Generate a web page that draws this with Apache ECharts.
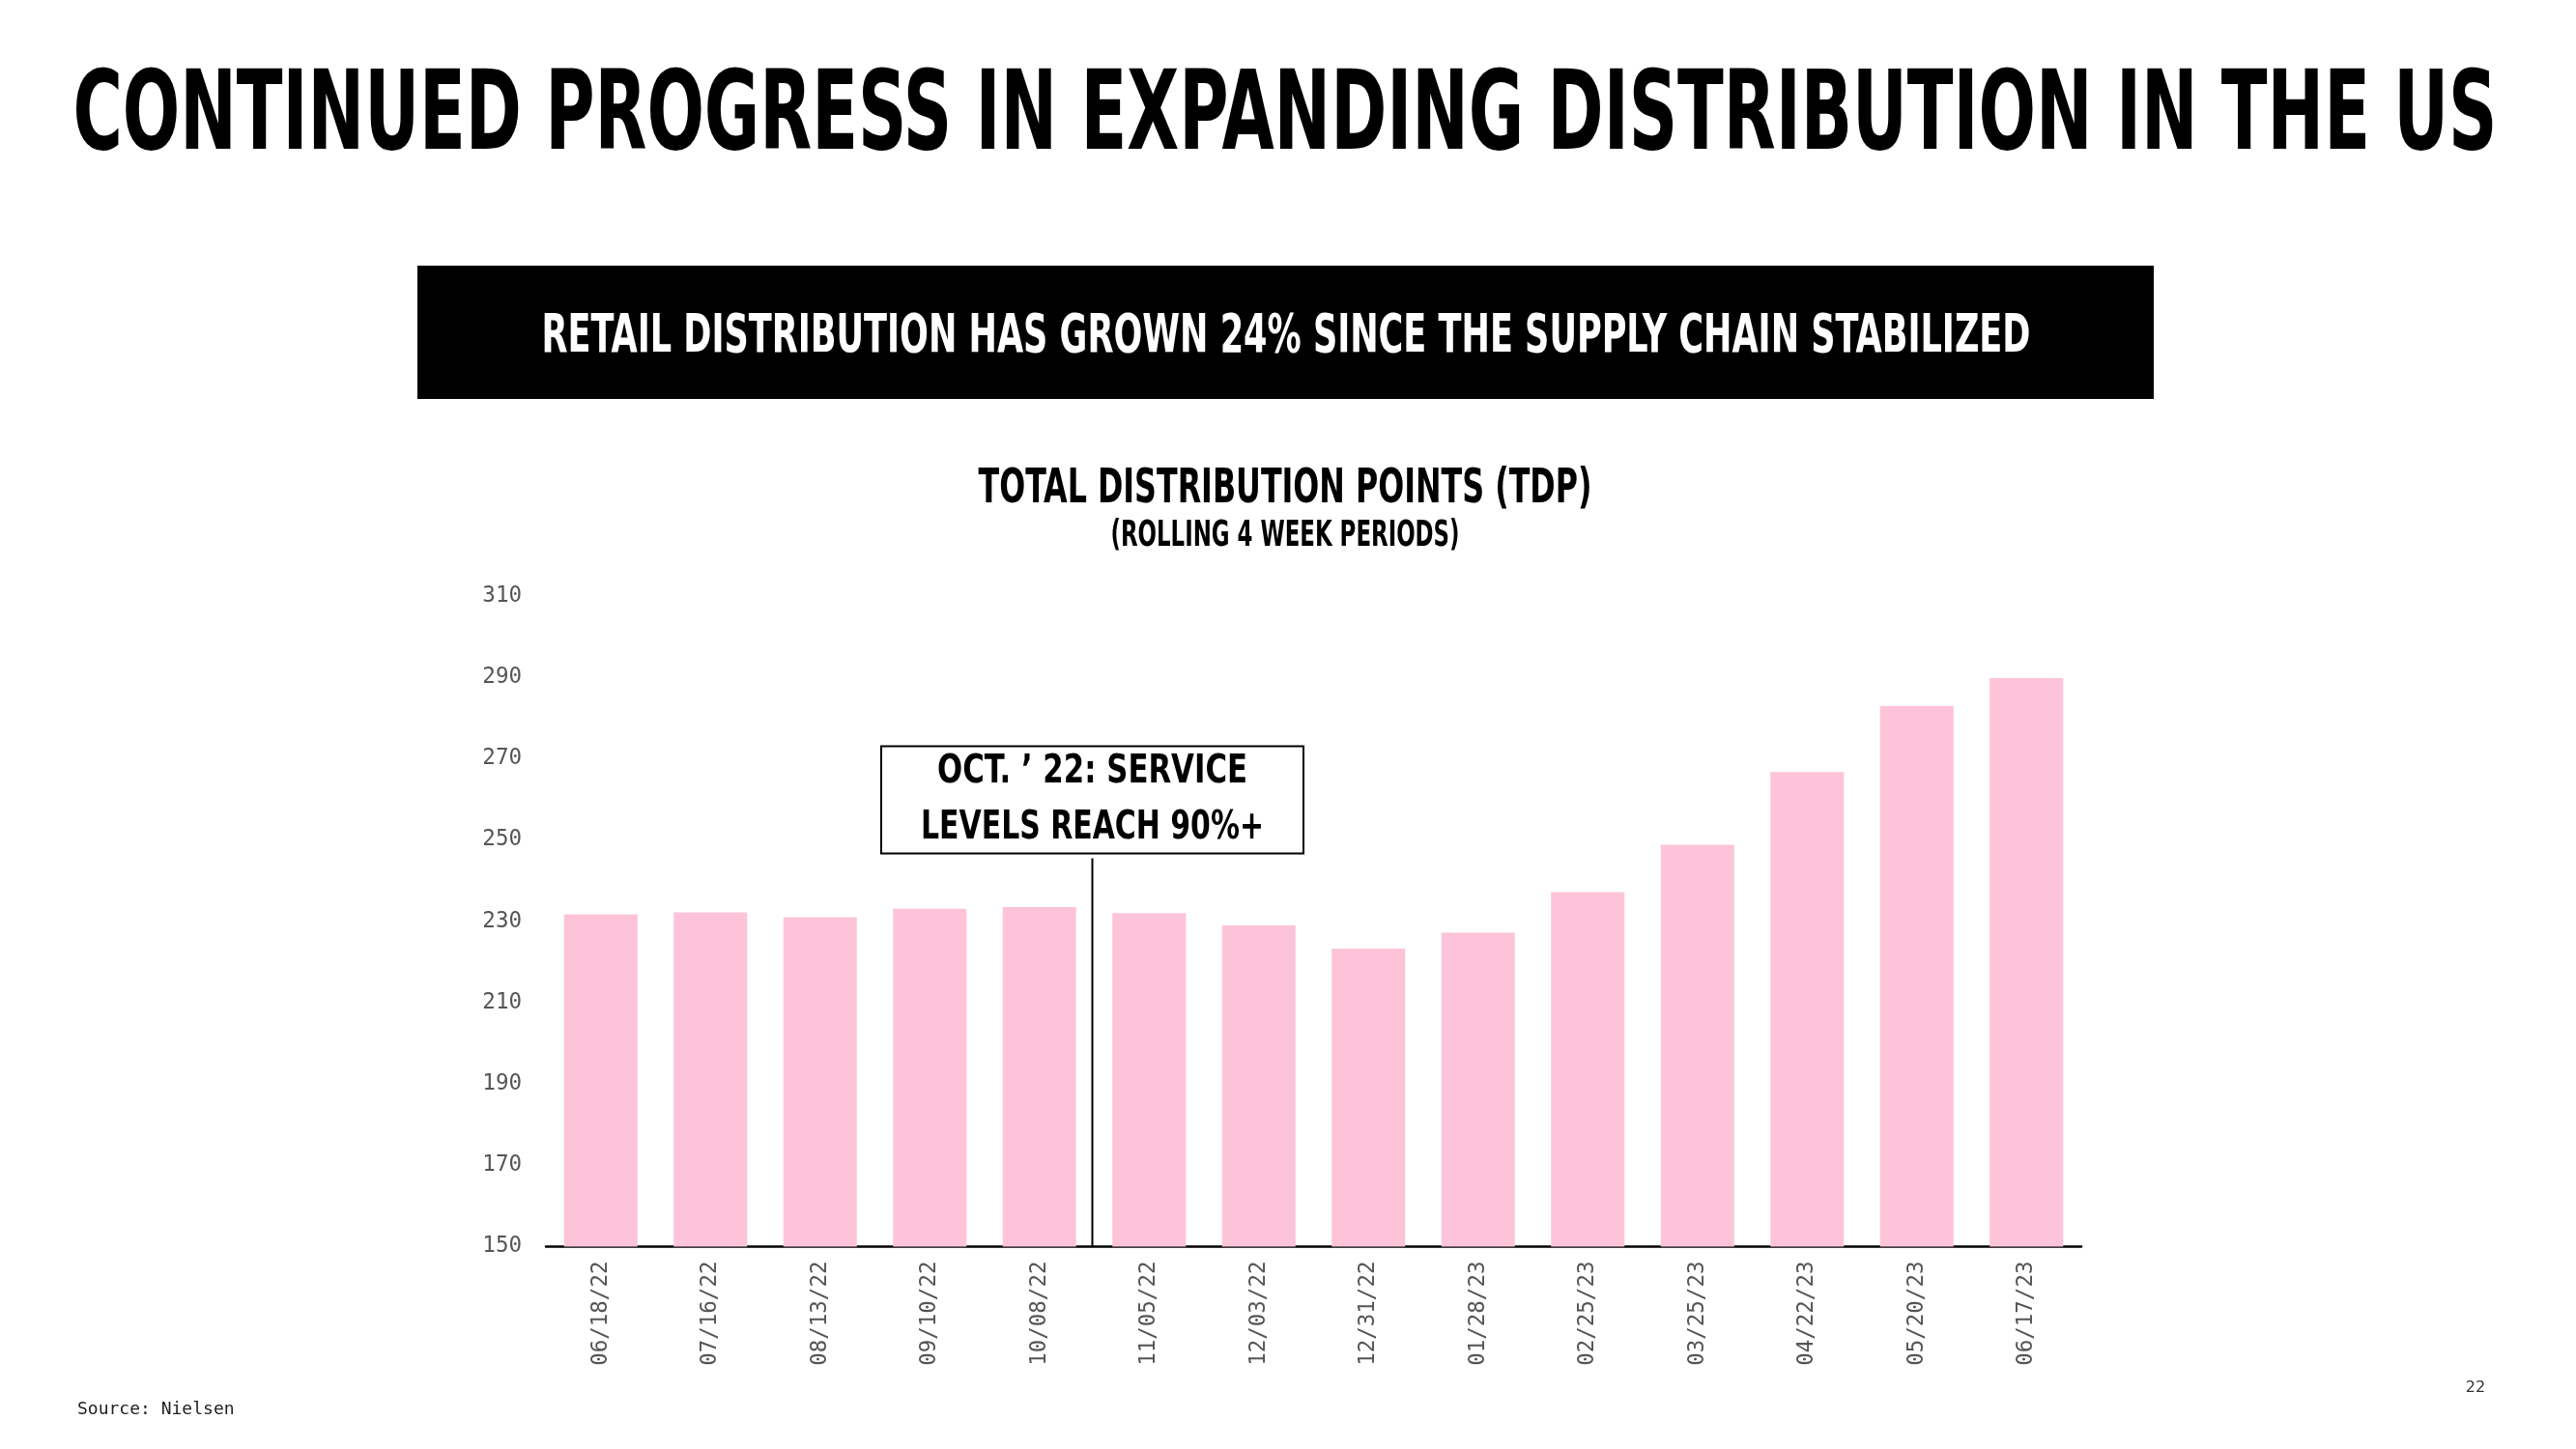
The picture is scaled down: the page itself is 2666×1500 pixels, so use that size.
<!DOCTYPE html>
<html><head><meta charset="utf-8">
<script src="https://cdn.jsdelivr.net/npm/echarts@6/dist/echarts.min.js"></script>
<style>html,body{margin:0;padding:0;background:#fff}#c{width:2666px;height:1500px}</style>
</head><body><div id="c"></div>
<script>
// ---- data ----
const categories = ['06/18/22','07/16/22','08/13/22','09/10/22','10/08/22','11/05/22','12/03/22','12/31/22','01/28/23','02/25/23','03/25/23','04/22/23','05/20/23','06/17/23'];
const tdpValues = [231.7, 232.2, 231.0, 233.1, 233.5, 232.0, 229.0, 223.3, 227.2, 237.2, 248.8, 266.7, 283.0, 289.8];
const yMin = 150, yMax = 310, yStep = 20;
const titleText = 'CONTINUED PROGRESS IN EXPANDING DISTRIBUTION IN THE US';
const bannerText = 'RETAIL DISTRIBUTION HAS GROWN 24% SINCE THE SUPPLY CHAIN STABILIZED';
const chartTitle = 'TOTAL DISTRIBUTION POINTS (TDP)';
const chartSubtitle = '(ROLLING 4 WEEK PERIODS)';
const annotationLines = ['OCT. \u2019 22: SERVICE', 'LEVELS REACH 90%+'];
const annotationAfterIndex = 4; // line sits between this category and the next
const sourceText = 'Source: Nielsen';
const pageNumber = '22';

// ---- styles ----
const DISPLAY = '"DejaVu Sans Condensed", "DejaVu Sans", sans-serif';
const MONO = '"DejaVu Sans Mono", "Liberation Mono", monospace';
const PINK = '#FDC4D9';

const mctx = document.createElement('canvas').getContext('2d');
function fit(text, size, target) {
  mctx.font = 'bold ' + size + 'px ' + DISPLAY;
  return target / mctx.measureText(text).width;
}
function fancyText(text, cx, cy, size, targetW, color) {
  return {
    type: 'text', x: cx, y: cy, scaleX: fit(text, size, targetW), z: 10,
    style: {
      text: text, fontSize: size, fontWeight: 'bold', fontFamily: DISPLAY,
      fill: color, align: 'center', verticalAlign: 'middle',
      textAlign: 'center', textVerticalAlign: 'middle'
    }
  };
}

const chart = echarts.init(document.getElementById('c'), null, {renderer: 'canvas'});

const baseGraphics = [
  fancyText(titleText, 1330, 124, 114, 2509, '#000'),
  {type: 'rect', shape: {x: 432, y: 275, width: 1797, height: 138}, style: {fill: '#000'}, z: 5},
  fancyText(bannerText, 1331, 349, 56, 1541, '#fff'),
  fancyText(chartTitle, 1330, 507, 50, 635, '#000'),
  fancyText(chartSubtitle, 1330, 555, 37, 361, '#000'),
  {type: 'text', x: 80, y: 1459, z: 10, style: {text: sourceText, fontSize: 18, fontFamily: MONO, fill: '#222', align: 'left', verticalAlign: 'middle', textAlign: 'left', textVerticalAlign: 'middle'}},
  {type: 'text', x: 2562, y: 1437, z: 10, style: {text: pageNumber, fontSize: 16, fontFamily: '"DejaVu Sans", sans-serif', fill: '#333', align: 'center', verticalAlign: 'middle', textAlign: 'center', textVerticalAlign: 'middle'}}
];

chart.setOption({
  animation: false,
  backgroundColor: '#fff',
  grid: {left: 565, right: 512, top: 617, bottom: 209.5, containLabel: false},
  xAxis: {
    type: 'category', data: categories,
    axisLine: {show: true, lineStyle: {color: '#000', width: 2.5}},
    axisTick: {show: false},
    axisLabel: {rotate: 90, margin: 15, fontSize: 22.5, fontFamily: MONO, color: '#555'}
  },
  yAxis: {
    type: 'value', min: yMin, max: yMax, interval: yStep,
    axisLine: {show: false}, axisTick: {show: false}, splitLine: {show: false},
    axisLabel: {margin: 25, fontSize: 22.5, fontFamily: MONO, color: '#555'}
  },
  series: [{
    type: 'bar', data: tdpValues, barWidth: '67%',
    itemStyle: {color: PINK}
  }],
  graphic: baseGraphics
});

// annotation anchored through the axes' scales
const xa = chart.convertToPixel({xAxisIndex: 0}, categories[annotationAfterIndex]);
const xb = chart.convertToPixel({xAxisIndex: 0}, categories[annotationAfterIndex + 1]);
const lx = Math.round((xa + xb) / 2) - 2.5;
const yAxisBase = chart.convertToPixel({yAxisIndex: 0}, yMin);
const lineTop = chart.convertToPixel({yAxisIndex: 0}, 245.5);
const boxW = 437, boxH = 111;
const boxBottom = lineTop - 5;
const boxTop = boxBottom - boxH;

chart.setOption({
  graphic: baseGraphics.concat([
    {type: 'line', shape: {x1: lx, y1: lineTop, x2: lx, y2: yAxisBase}, style: {stroke: '#000', lineWidth: 2}, z: 10},
    {type: 'rect', shape: {x: lx - boxW / 2, y: boxTop, width: boxW, height: boxH}, style: {fill: '#fff', stroke: '#000', lineWidth: 2}, z: 10},
    fancyText(annotationLines[0], lx, boxTop + 27, 41, 321, '#000'),
    fancyText(annotationLines[1], lx, boxTop + 85, 41, 355, '#000')
  ])
});
</script>
</body></html>
